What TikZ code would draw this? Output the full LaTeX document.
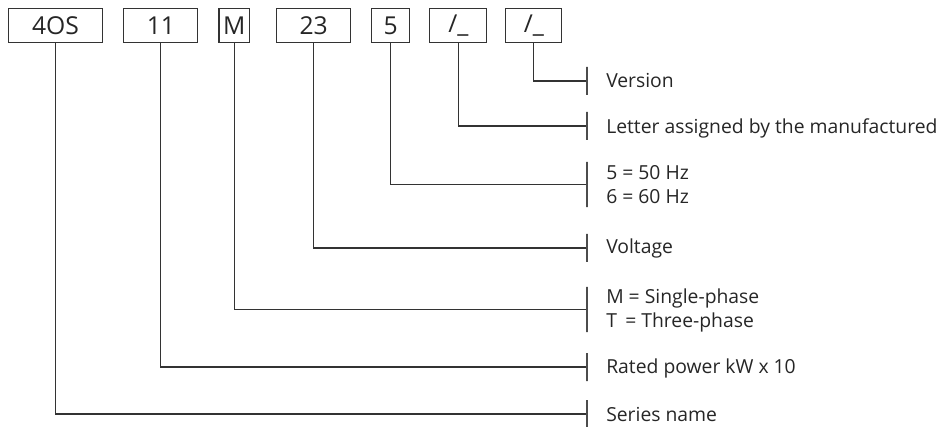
\documentclass[tikz,border=0pt]{standalone}
\usepackage{fontspec}
\setmainfont{Open Sans}
\usepackage{xcolor}
\usetikzlibrary{
    positioning
}

\begin{document}
\begin{tikzpicture}[
    x=0.75pt, y=-0.75pt,
    codebox/.style={
        draw=black!80,
        line width=0.8pt,
        minimum height=26pt,
        inner sep=0pt,
        text=black!85,
        font=\fontsize{18.5}{20}\selectfont
    },
    tick/.style={
        draw=black!70,
        line width=0.9pt,
        minimum width=0pt,
        minimum height=21pt,
        inner sep=0pt
    },
    ticktall/.style={tick, minimum height=34pt},
    label/.style={
        anchor=west,
        align=left,
        inner sep=0pt,
        text=black!85,
        font=\fontsize{14.5}{18}\selectfont
    },
    conn/.style={draw=black!80, line width=0.8pt}
]
\useasboundingbox (0,0) rectangle (941,427);

\node[codebox, minimum width=70pt] (b1) at (55.5,25.5) {4OS};
\node[codebox, minimum width=55.5pt, right=15.5pt of b1] (b2) {11};
\node[codebox, minimum width=23pt, right=15pt of b2] (b3) {M};
\node[codebox, minimum width=55.5pt, right=19.5pt of b3] (b4) {23};
\node[codebox, minimum width=28.5pt, right=15pt of b4] (b5) {5};
\node[codebox, minimum width=42.75pt, right=14.25pt of b5] (b6) {/\_};
\node[codebox, minimum width=42pt, right=13.5pt of b6] (b7) {/\_};

\node[tick] (t7) at (587,81) {};
\node[tick] (t6) at (587,126) {};
\node[ticktall] (t5) at (587,184.5) {};
\node[tick] (t4) at (587,248) {};
\node[ticktall] (t3) at (587,309.5) {};
\node[tick] (t2) at (587,367) {};
\node[tick] (t1) at (587,414) {};

\node[label] (l7) at (606,81) {Version};
\node[label] (l6) at (606,128) {Letter assigned by the manufactured};
\node[label] (l5) at (606,185) {5 = 50 Hz\\6 = 60 Hz};
\node[label] (l4) at (606,248) {Voltage};
\node[label] (l3) at (606,310) {M = Single-phase\\T\kern2.5pt{} = Three-phase};
\node[label] (l2) at (606,368) {Rated power kW x 10};
\node[label] (l1) at (606,414) {Series name};

\draw[conn] (b7.south) |- (t7.west);
\draw[conn] (b6.south) |- (t6.west);
\draw[conn] (b5.south) |- (t5.west);
\draw[conn] (b4.south) |- (t4.west);
\draw[conn] (b3.south) |- (t3.west);
\draw[conn] (b2.south) |- (t2.west);
\draw[conn] (b1.south) |- (t1.west);

\end{tikzpicture}
\end{document}
